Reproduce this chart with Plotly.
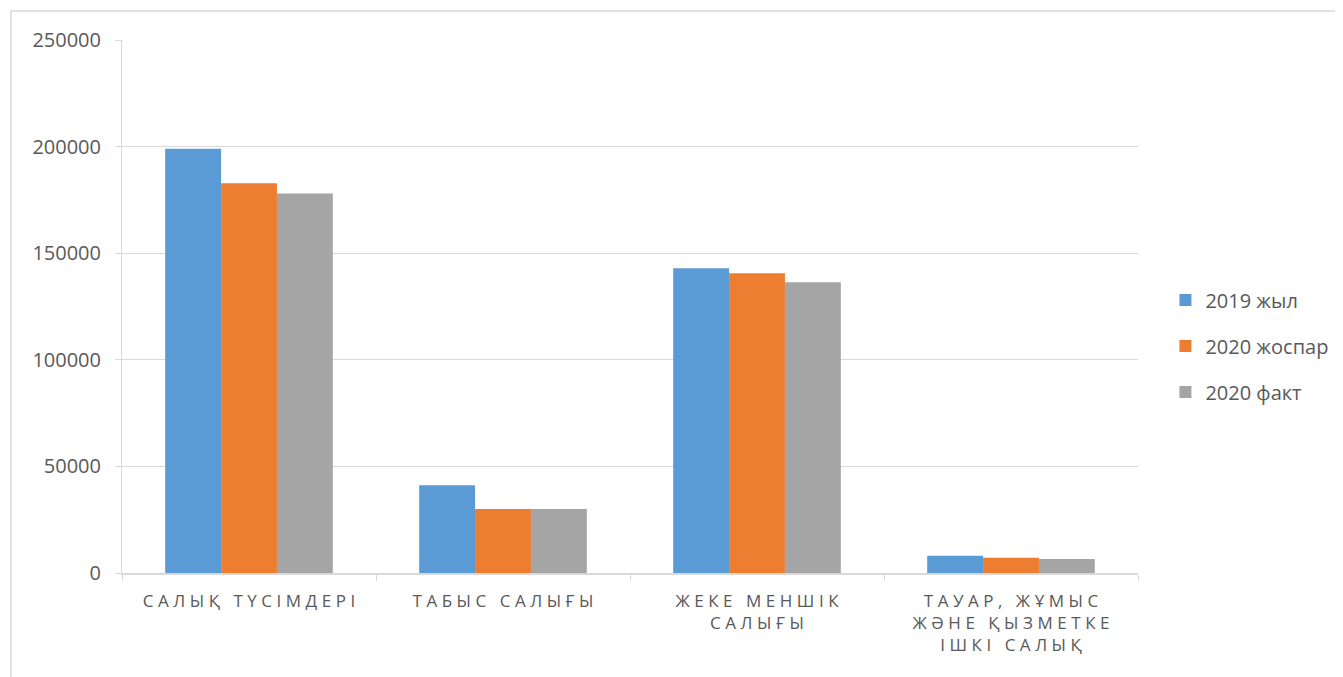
import plotly.graph_objects as go

categories = ["САЛЫҚ ТҮСІМДЕРІ", "ТАБЫС САЛЫҒЫ", "ЖЕКЕ МЕНШІК<br>САЛЫҒЫ",
              "ТАУАР, ЖҰМЫС<br>ЖӘНЕ ҚЫЗМЕТКЕ<br>ІШКІ САЛЫҚ"]
series_names = ["2019 жыл", "2020 жоспар", "2020 факт"]
values_2019 = [199000, 41100, 142900, 8100]
values_2020_plan = [182800, 30000, 140600, 7200]
values_2020_fact = [178000, 30000, 136400, 6600]
colors = ["#5b9bd5", "#ed7d31", "#a5a5a5"]


def spaced(label):
    # emulate the wide letter-spacing of the original category labels
    lines = label.split("<br>")
    return "<br>".join("\u2009\u200a".join(list(line)) for line in lines)


fig = go.Figure()
for i, (name, vals) in enumerate(zip(series_names, [values_2019, values_2020_plan, values_2020_fact])):
    fig.add_trace(go.Bar(x=categories, y=vals, name=name, marker_color=colors[i],
                         marker_line_width=0, legendgroup=name))

grid = "#d9d9d9"
fig.update_layout(
    width=1343, height=677,
    margin=dict(l=114, r=213, t=32, b=112),
    plot_bgcolor="white", paper_bgcolor="white",
    barmode="group", bargap=0.34, bargroupgap=0,
    font=dict(family="Open Sans, Liberation Sans, sans-serif", color="#595959"),
    legend=dict(x=1.027, y=0.426, xanchor="left", yanchor="middle",
                font=dict(size=20, color="#595959"), tracegroupgap=17,
                itemwidth=30),
    showlegend=True,
    shapes=[dict(type="rect", xref="paper", yref="paper",
                 x0=(11 - 122) / 1016, x1=(1400 - 122) / 1016,
                 y0=(573 - 720) / 533, y1=(573 - 11) / 533,
                 line=dict(color=grid, width=1.5), fillcolor="rgba(0,0,0,0)", layer="below")],
)
fig.update_yaxes(range=[0, 250000], dtick=50000, showgrid=True, gridcolor=grid, gridwidth=1,
                 showline=True, linecolor=grid, linewidth=1, ticks="outside", ticklen=6,
                 tickcolor=grid, tickfont=dict(size=20, color="#595959"), zeroline=False,
                 tickformat="d", ticklabelstandoff=10)
fig.update_xaxes(showline=True, linecolor=grid, linewidth=1.5, ticks="outside", ticklen=6,
                 tickcolor=grid, tickson="boundaries",
                 tickmode="array", tickvals=categories, ticktext=[spaced(c) for c in categories],
                 ticklabelstandoff=12,
                 tickfont=dict(size=17, color="#595959", family="Open Sans"))

fig.write_html("out.html")
